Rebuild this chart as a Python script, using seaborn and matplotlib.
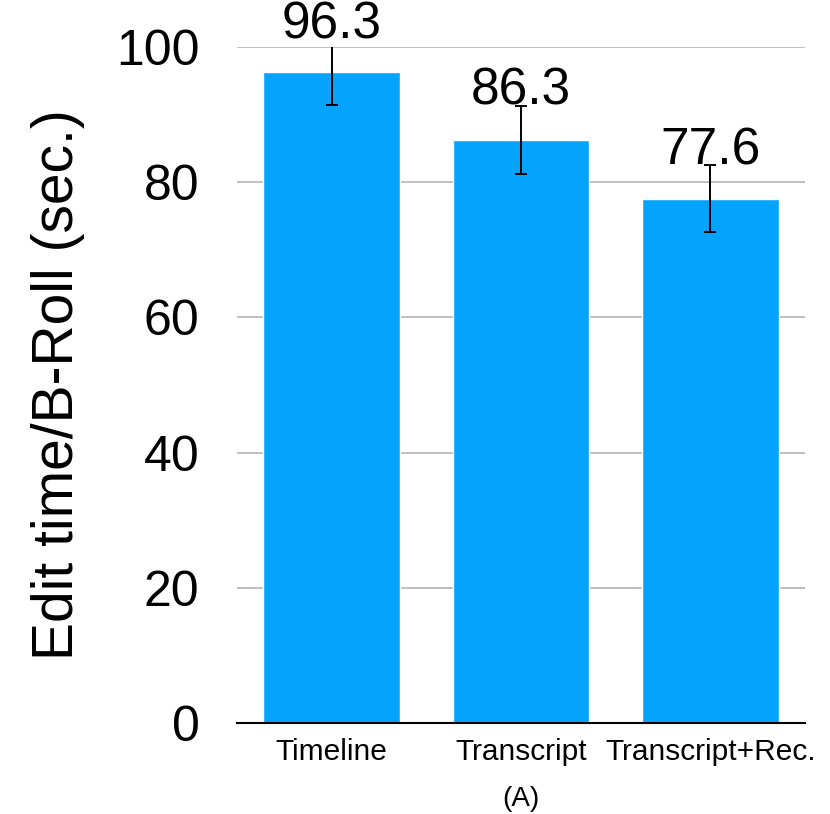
import matplotlib
matplotlib.use("Agg")
import matplotlib.pyplot as plt
import seaborn as sns

# data
conditions = ["Timeline", "Transcript", "Transcript+Rec."]
mean_time = [96.3, 86.3, 77.6]
err_time = [4.8, 5.0, 4.9]
y_ticks = [0, 20, 40, 60, 80, 100]

BAR_COLOR = "#03A3FE"

sns.set_style("white")
plt.rcParams["font.family"] = ["Liberation Sans", "DejaVu Sans"]
plt.rcParams["text.color"] = "black"
plt.rcParams["axes.labelcolor"] = "black"
plt.rcParams["xtick.color"] = "black"
plt.rcParams["ytick.color"] = "black"

fig = plt.figure(figsize=(8.3, 8.14), dpi=100)
ax = fig.add_axes([0.2855, 0.112, 0.6845, 0.83])

sns.barplot(
    x=conditions,
    y=mean_time,
    color=BAR_COLOR,
    saturation=1,
    width=0.72,
    errorbar=None,
    ax=ax,
    zorder=2,
)

ax.errorbar(
    range(len(conditions)),
    mean_time,
    yerr=err_time,
    fmt="none",
    ecolor="black",
    elinewidth=1.4,
    capsize=4.5,
    capthick=1.4,
    zorder=3,
)

# value labels sit on top of the error bars
for i, (m, e) in enumerate(zip(mean_time, err_time)):
    ax.annotate(f"{m:.1f}", (i, m + e), xytext=(0, 1), textcoords="offset points",
                ha="center", va="baseline", fontsize=37, zorder=4,
                annotation_clip=False)

ax.set_ylim(0, 100)
ax.set_xlim(-0.5, 2.5)
ax.set_yticks(y_ticks)
ax.set_yticklabels([str(t) for t in y_ticks], fontsize=36)
ax.tick_params(axis="y", length=0, pad=27)
ax.tick_params(axis="x", length=0, pad=11, labelsize=21.5)

ax.set_axisbelow(True)
ax.yaxis.grid(True, color="#BFBFBF", linewidth=1.4)
ax.xaxis.grid(False)

for side in ["top", "right", "left"]:
    ax.spines[side].set_visible(False)
ax.spines["bottom"].set_color("black")
ax.spines["bottom"].set_linewidth(1.5)
ax.spines["bottom"].set_zorder(5)

ax.set_ylabel("Edit time/B-Roll (sec.)", fontsize=41, labelpad=22)
ax.set_xlabel("(A)", fontsize=20, labelpad=14)

fig.savefig("out.png", dpi=100)
